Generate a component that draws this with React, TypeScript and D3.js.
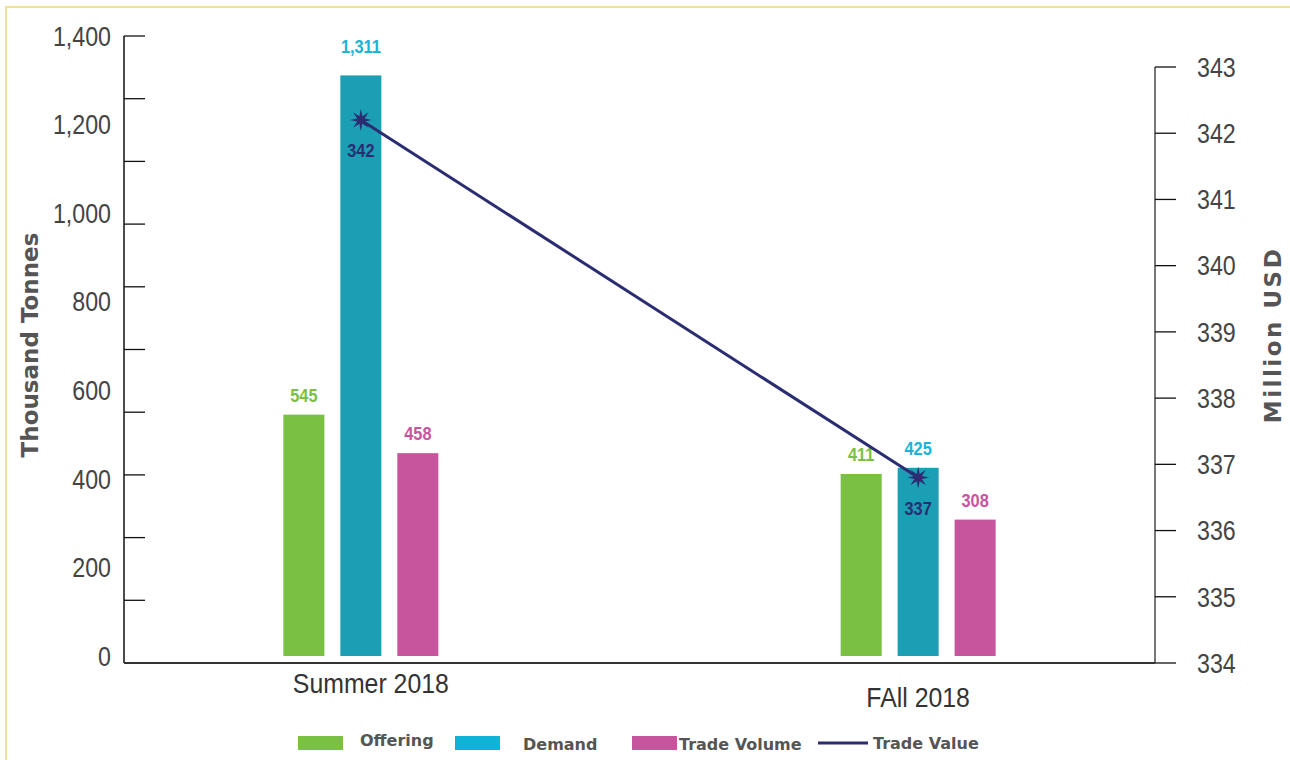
import React from 'react'
import * as d3 from 'd3'

// chart values
const categories = ['Summer 2018', 'FAll 2018']
const seriesNames = ['Offering', 'Demand', 'Trade Volume']
const offering = [545, 411]
const demand = [1311, 425]
const tradeVolume = [458, 308]
const tradeValue = [342.2, 336.8]
const leftTickLabels = [0, 200, 400, 600, 800, 1000, 1200, 1400]
const leftTickMarks = [0, 140, 280, 420, 560, 700, 840, 980, 1120, 1260, 1400]
const rightTicks = [334, 335, 336, 337, 338, 339, 340, 341, 342, 343]

const barColors = ['#7ac143', '#1a9fb4', '#c7559e']
const labelColors = ['#7ac143', '#19b4d6', '#c7559e']
const legendColors = ['#7ac143', '#0db4d6', '#c7559e']
const lineColor = '#2b2d72'

const W = 1290
const H = 760
const left = 124
const right = 1155
const plotBottom = 663

const sans = '"Liberation Sans", Arial, sans-serif'
const wide = '"DejaVu Sans", sans-serif'

// text squeezed horizontally, to get the narrow face of the original
function Narrow(props: { x: number; y: number; k?: number; children: React.ReactNode; [key: string]: any }) {
  const { x, y, k = 0.86, children, ...rest } = props
  return (
    <text transform={`translate(${x},${y}) scale(${k},1)`} fontFamily={sans} {...rest}>
      {children}
    </text>
  )
}

export default function App() {
  const x = d3.scalePoint<string>().domain(categories).range([left, right]).padding(0.425)
  const inner = d3.scaleBand<string>().domain(seriesNames).range([-77.5, 77.5]).paddingInner(0.28)
  const y = d3.scaleLinear().domain([0, 1400]).range([656, 36])
  // tick marks run the full axis height
  const yMarks = d3.scaleLinear().domain([0, 1400]).range([plotBottom, 36])
  const y2 = d3.scaleLinear().domain([334, 343]).range([plotBottom, 67])

  const seriesValues = [offering, demand, tradeVolume]
  const fmt = d3.format(',')
  const fmt0 = d3.format('.0f')

  const line = d3.line<number>()
    .x((_, i) => x(categories[i]) as number)
    .y((d) => y2(d))

  // 8 point burst marker
  const burst = d3.lineRadial<number>()
    .angle((i) => (i * Math.PI) / 8)
    .radius((i) => (i % 2 === 0 ? 11 : 4))
    .curve(d3.curveLinearClosed)(d3.range(16)) as string

  const legend = [
    { name: 'Offering', kind: 'bar', color: legendColors[0], sx: 298, tx: 360, ty: 746 },
    { name: 'Demand', kind: 'bar', color: legendColors[1], sx: 455, tx: 523, ty: 750 },
    { name: 'Trade Volume', kind: 'bar', color: legendColors[2], sx: 632, tx: 679, ty: 750 },
    { name: 'Trade Value', kind: 'line', color: lineColor, sx: 818, tx: 873, ty: 749 },
  ]

  return (
    <svg width={W} height={H} style={{ position: 'absolute', left: 0, top: 0, background: '#fff' }}>
      <rect x={6} y={7} width={W} height={H} fill="none" stroke="#efe0a2" strokeWidth={2} />

      {/* left axis */}
      <line x1={left} x2={left} y1={36} y2={plotBottom} stroke="#111" strokeWidth={1.5} />
      {leftTickMarks.map((t) => (
        <line key={t} x1={left} x2={left + 21} y1={yMarks(t)} y2={yMarks(t)} stroke="#111" strokeWidth={1.3} />
      ))}
      {leftTickLabels.map((t) => (
        <Narrow key={t} x={111} y={y(t)} dy="0.36em" textAnchor="end" fontSize={27} fill="#444">
          {fmt(t)}
        </Narrow>
      ))}
      <text transform="translate(38,345) rotate(-90)" textAnchor="middle" fontFamily={wide} fontWeight="bold" fontSize={23} fill="#555">
        Thousand Tonnes
      </text>

      {/* right axis */}
      <line x1={right} x2={right} y1={67} y2={plotBottom} stroke="#777" strokeWidth={2} />
      {rightTicks.map((t) => (
        <g key={t}>
          <line x1={right} x2={right + 21} y1={y2(t)} y2={y2(t)} stroke="#111" strokeWidth={1.3} />
          <Narrow x={1197} y={y2(t)} dy="0.36em" fontSize={27} fill="#444">
            {t}
          </Narrow>
        </g>
      ))}
      <text transform="translate(1281,335) rotate(-90)" textAnchor="middle" fontFamily={wide} fontWeight="bold" fontSize={23} letterSpacing={2.5} fill="#555">
        Million USD
      </text>

      {/* x axis */}
      <line x1={left} x2={right} y1={plotBottom} y2={plotBottom} stroke="#333" strokeWidth={2} />
      {categories.map((c, i) => (
        <Narrow key={c} k={0.92} x={(x(c) as number) + (i === 0 ? 10 : 0)} y={plotBottom + (i === 0 ? 30 : 44)} textAnchor="middle" fontSize={27} fill="#333">
          {c}
        </Narrow>
      ))}

      {/* bars */}
      {categories.map((c, ci) =>
        seriesNames.map((s, si) => {
          const v = seriesValues[si][ci]
          const bx = (x(c) as number) + (inner(s) as number)
          return (
            <g key={c + s}>
              <rect x={bx} y={y(v)} width={inner.bandwidth()} height={y(0) - y(v)} fill={barColors[si]} />
              <Narrow x={bx + inner.bandwidth() / 2} y={y(v) - (v > 1000 ? 22 : 13)} textAnchor="middle" fontWeight="bold" fontSize={19} fill={labelColors[si]}>
                {fmt(v)}
              </Narrow>
            </g>
          )
        })
      )}

      {/* trade value line */}
      <path d={line(tradeValue) as string} fill="none" stroke={lineColor} strokeWidth={3} />
      {tradeValue.map((v, i) => {
        const px = x(categories[i]) as number
        return (
          <g key={i}>
            <path d={burst} transform={`translate(${px},${y2(v)})`} fill={lineColor} />
            <Narrow x={px} y={y2(v) + 37} textAnchor="middle" fontWeight="bold" fontSize={19} fill={lineColor}>
              {fmt0(v)}
            </Narrow>
          </g>
        )
      })}

      {/* legend */}
      {legend.map((l) => (
        <g key={l.name}>
          {l.kind === 'bar' ? (
            <rect x={l.sx} y={736} width={45} height={14} fill={l.color} />
          ) : (
            <line x1={l.sx} x2={l.sx + 50} y1={743} y2={743} stroke={l.color} strokeWidth={3} />
          )}
          <text x={l.tx} y={l.ty} fontFamily={wide} fontWeight="bold" fontSize={16} fill="#555">
            {l.name}
          </text>
        </g>
      ))}
    </svg>
  )
}
